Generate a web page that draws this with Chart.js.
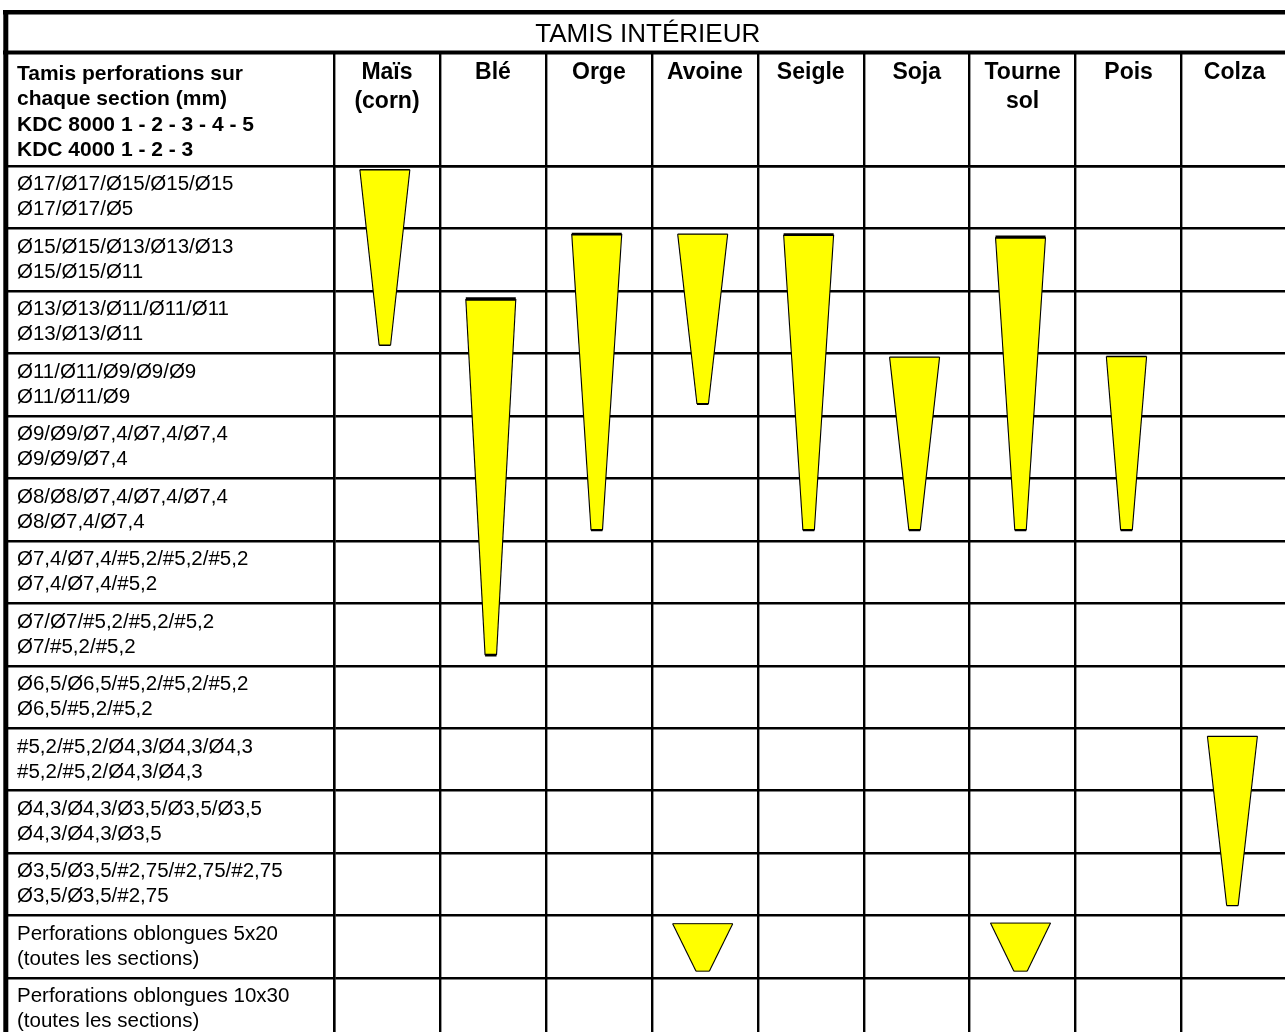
<!DOCTYPE html>
<html>
<head>
<meta charset="utf-8">
<script src="https://cdn.jsdelivr.net/npm/chart.js@4/dist/chart.umd.min.js"></script>
<style>
  html, body { margin: 0; padding: 0; background: #fff; overflow: hidden; }
  #wrap { position: absolute; left: 0; top: 0; width: 1290px; height: 1045px; }
</style>
</head>
<body>
<div id="wrap"><canvas id="c" width="1290" height="1045"></canvas></div>
<script>
// ---------------- data ----------------
const tableTitle = 'TAMIS INTÉRIEUR';
const headerLines = ['Tamis perforations sur', 'chaque section (mm)', 'KDC 8000 1 - 2 - 3 - 4 - 5', 'KDC 4000 1 - 2 - 3'];
const crops = ['Maïs (corn)', 'Blé', 'Orge', 'Avoine', 'Seigle', 'Soja', 'Tourne sol', 'Pois', 'Colza'];
const sievesKdc8000 = [
  'Ø17/Ø17/Ø15/Ø15/Ø15', 'Ø15/Ø15/Ø13/Ø13/Ø13', 'Ø13/Ø13/Ø11/Ø11/Ø11', 'Ø11/Ø11/Ø9/Ø9/Ø9',
  'Ø9/Ø9/Ø7,4/Ø7,4/Ø7,4', 'Ø8/Ø8/Ø7,4/Ø7,4/Ø7,4', 'Ø7,4/Ø7,4/#5,2/#5,2/#5,2', 'Ø7/Ø7/#5,2/#5,2/#5,2',
  'Ø6,5/Ø6,5/#5,2/#5,2/#5,2', '#5,2/#5,2/Ø4,3/Ø4,3/Ø4,3', 'Ø4,3/Ø4,3/Ø3,5/Ø3,5/Ø3,5', 'Ø3,5/Ø3,5/#2,75/#2,75/#2,75',
  'Perforations oblongues 5x20', 'Perforations oblongues 10x30'
];
const sievesKdc4000 = [
  'Ø17/Ø17/Ø5', 'Ø15/Ø15/Ø11', 'Ø13/Ø13/Ø11', 'Ø11/Ø11/Ø9',
  'Ø9/Ø9/Ø7,4', 'Ø8/Ø7,4/Ø7,4', 'Ø7,4/Ø7,4/#5,2', 'Ø7/#5,2/#5,2',
  'Ø6,5/#5,2/#5,2', '#5,2/#5,2/Ø4,3/Ø4,3', 'Ø4,3/Ø4,3/Ø3,5', 'Ø3,5/Ø3,5/#2,75',
  '(toutes les sections)', '(toutes les sections)'
];
// recommended sieve range per crop (row positions, 0 = top of first sieve row)
const shapeCrop = ['Maïs (corn)', 'Blé', 'Orge', 'Avoine', 'Seigle', 'Soja', 'Tourne sol', 'Pois', 'Colza', 'Avoine', 'Tourne sol'];
const shapeFrom = [0.06, 2.13, 1.09, 1.09, 1.10, 3.06, 1.14, 3.05, 9.13, 12.13, 12.12];
const shapeTo   = [2.87, 7.83, 5.83, 3.81, 5.83, 5.83, 5.83, 5.83, 11.84, 12.89, 12.89];

// ---------------- style ----------------
const FONT = "'Liberation Sans', Arial, Helvetica, sans-serif";
const LINE = 2.4;
const STYLE = {
  shift: -0.02,
  taper: { def: { top: 0.472, bottom: 0.108 }, 'Pois': { top: 0.38, bottom: 0.11 } },
  oblong: { top: 0.567, bottom: 0.125 },
  topBar: { 'Blé': 3.6, 'Orge': 2.8, 'Seigle': 2.8, 'Tourne sol': 3.2 },
  bottomBar: { 'Maïs (corn)': 1.4, 'Colza': 1.4, 'Blé': 2.8 },
  side: 1.1
};

const rowLabels = sievesKdc8000.map((s, i) => [s, sievesKdc4000[i]]);
const cropLabels = crops.map(c => c.split(' '));

const datasets = shapeCrop.map((crop, i) => {
  const col = crops.indexOf(crop);
  const oblong = shapeFrom[i] >= 12;
  const w = oblong ? STYLE.oblong : (STYLE.taper[crop] || STYLE.taper.def);
  const c = col + 0.5 + STYLE.shift;
  const a = shapeFrom[i], b = shapeTo[i];
  const topW = oblong ? 1 : (STYLE.topBar[crop] || 1.3);
  const botW = oblong ? 1 : (STYLE.bottomBar[crop] || 2.2);
  return {
    label: crop,
    data: [
      { x: c - w.top / 2, y: a }, { x: c + w.top / 2, y: a },
      { x: c + w.bottom / 2, y: b }, { x: c - w.bottom / 2, y: b },
      { x: c - w.top / 2, y: a }
    ],
    xAxisID: 'x', yAxisID: 'y',
    backgroundColor: '#ffff00', borderColor: '#000', borderWidth: STYLE.side,
    pointRadius: 0, tension: 0, fill: false,
    segment: { borderWidth: ctx => ctx.p0DataIndex === 0 ? topW : (ctx.p0DataIndex === 2 ? botW : STYLE.side) }
  };
});

// fills each closed outline, using the point elements positioned by the chart's scales
const shapeFillPlugin = {
  id: 'shapeFill',
  beforeDatasetDraw(chart, args) {
    const pts = args.meta.data;
    if (!pts.length) return;
    const ctx = chart.ctx;
    ctx.save();
    ctx.beginPath();
    pts.forEach((p, k) => k ? ctx.lineTo(p.x, p.y) : ctx.moveTo(p.x, p.y));
    ctx.closePath();
    ctx.fillStyle = chart.data.datasets[args.index].backgroundColor;
    ctx.fill();
    ctx.restore();
  }
};

const framePlugin = {
  id: 'frame',
  afterDraw(chart) {
    const ctx = chart.ctx, area = chart.chartArea, yl = chart.scales.yl, xl = chart.scales.xl;
    const headerTop = xl.top;
    ctx.save();
    ctx.fillStyle = '#000';
    ctx.fillRect(3, 10, area.right, 4.5);
    ctx.fillRect(3, headerTop - 2.5, area.right, 4);
    ctx.fillRect(3.3, 10, 5, chart.height);
    ctx.font = '26px ' + FONT;
    ctx.textAlign = 'center';
    ctx.textBaseline = 'alphabetic';
    ctx.fillText(tableTitle, (8 + area.right) / 2, 42);
    ctx.font = 'bold 21px ' + FONT;
    ctx.textAlign = 'left';
    headerLines.forEach((t, i) => ctx.fillText(t, yl.left, headerTop + 26.5 + i * 25.5));
    ctx.restore();
  }
};

new Chart(document.getElementById('c'), {
  type: 'line',
  data: { datasets },
  plugins: [shapeFillPlugin, framePlugin],
  options: {
    responsive: false,
    devicePixelRatio: 1,
    animation: false,
    events: [],
    layout: { padding: { top: 53, left: 17, right: 2.5, bottom: 4.5 } },
    plugins: { legend: { display: false }, title: { display: false }, tooltip: { enabled: false } },
    scales: {
      x: { type: 'linear', min: 0, max: 9, display: false },
      y: { type: 'linear', min: 0, max: 14, reverse: true, display: false },
      xl: {
        type: 'category', position: 'top', labels: cropLabels, offset: true,
        grid: { offset: true, color: '#000', lineWidth: LINE, drawTicks: true, tickLength: 113, tickColor: '#000', tickWidth: LINE },
        border: { display: true, color: '#000', width: LINE },
        ticks: {
          color: '#000', font: { family: FONT, size: 23, weight: 'bold', lineHeight: '29px' },
          crossAlign: 'far', padding: -63, autoSkip: false, maxRotation: 0, minRotation: 0
        },
        afterFit(s) { s.height = 113; s.paddingLeft = 0; s.paddingRight = 0; }
      },
      yl: {
        type: 'category', position: 'left', labels: rowLabels, offset: true,
        grid: { offset: true, color: '#000', lineWidth: LINE, drawTicks: true, tickLength: 326, tickColor: '#000', tickWidth: LINE },
        border: { display: true, color: '#000', width: LINE },
        ticks: {
          color: '#000', font: { family: FONT, size: 20.5, lineHeight: '25px' },
          crossAlign: 'far', padding: 0, autoSkip: false
        },
        afterFit(s) { s.width = 317; s.paddingTop = 0; s.paddingBottom = 0; }
      }
    }
  }
});
</script>
</body>
</html>
